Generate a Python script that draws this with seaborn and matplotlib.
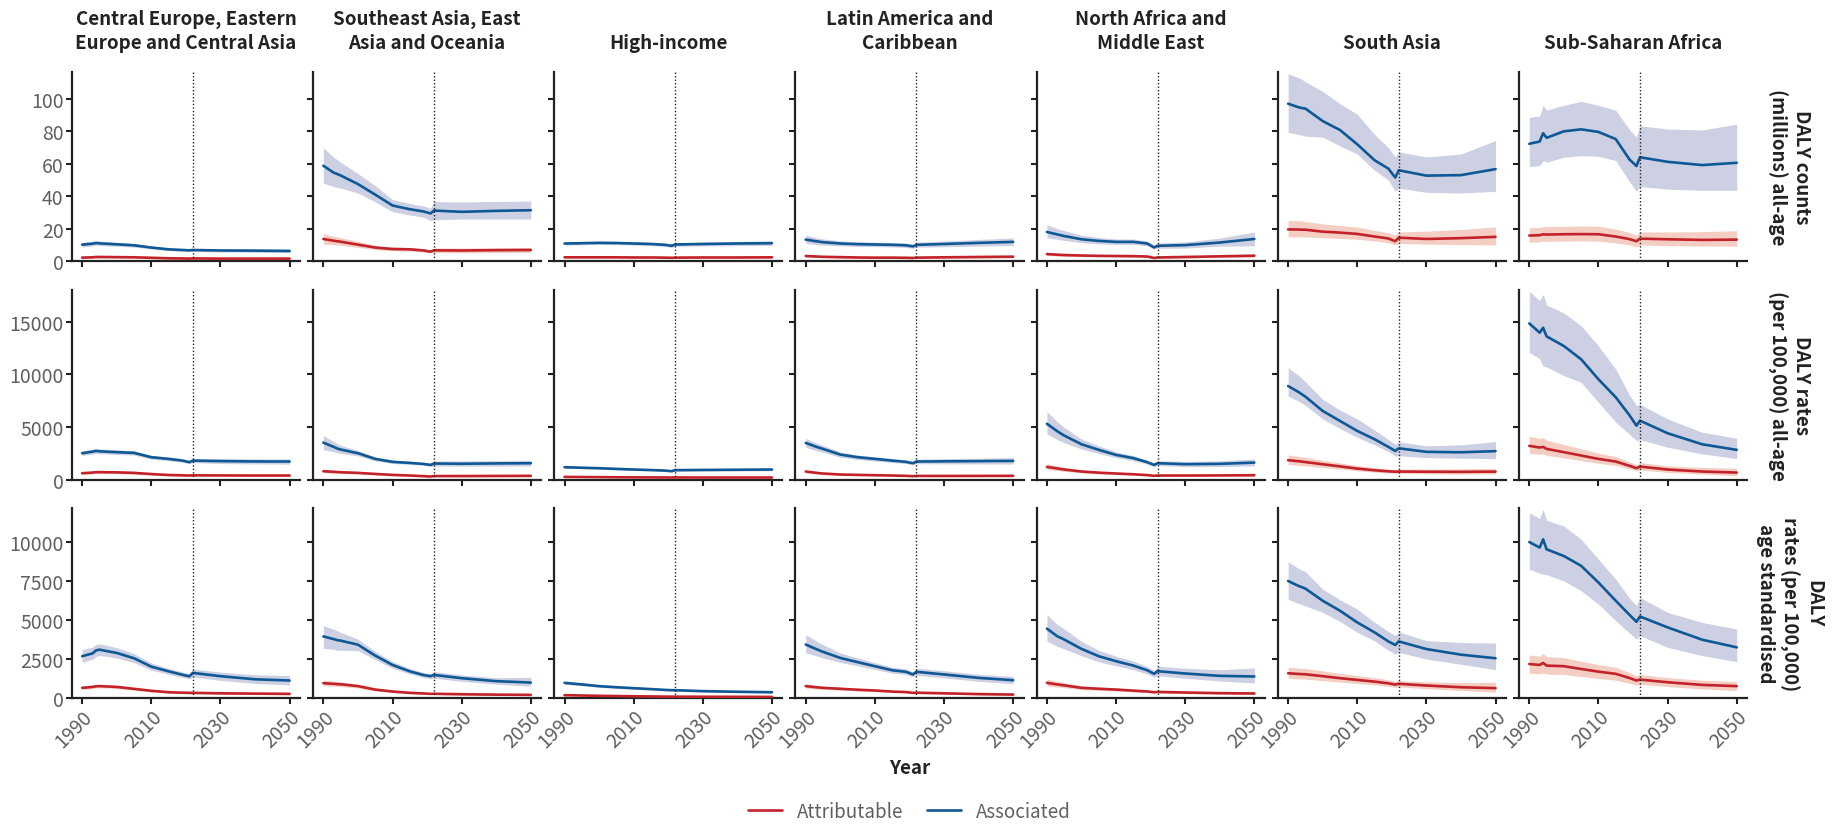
import numpy as np
import pandas as pd
import seaborn as sns
import matplotlib.pyplot as plt
from matplotlib.lines import Line2D

# regions (column order) and panel titles
regions = ["CEE", "SEA", "HI", "LAC", "NAME", "SA", "SSA"]
titles = ["Central Europe, Eastern\nEurope and Central Asia",
          "Southeast Asia, East\nAsia and Oceania",
          "High-income",
          "Latin America and\nCaribbean",
          "North Africa and\nMiddle East",
          "South Asia",
          "Sub-Saharan Africa"]
row_labels = ["DALY counts\n(millions) all-age",
              "DALY rates\n(per 100,000) all-age",
              "DALY\nrates (per 100,000)\nage standardised"]

years = [1990, 1993, 1994, 1995, 2000, 2005, 2010, 2015, 2019, 2021, 2022, 2030, 2040, 2050]

# ---- row 1: DALY counts (millions), all-age ----
cnt_assoc = [[10.2, 10.8, 11.2, 11.0, 10.4, 9.8, 8.4, 7.3, 6.9, 6.7, 6.9, 6.6, 6.5, 6.3],
             [58.8, 54.5, 53.7, 52.8, 47.5, 41.0, 34.3, 32.0, 30.6, 29.4, 31.2, 30.4, 31.0, 31.4],
             [10.9, 11.0, 11.0, 11.1, 11.3, 11.2, 10.9, 10.6, 10.1, 9.5, 10.3, 10.6, 10.9, 11.1],
             [13.3, 12.3, 12.0, 11.7, 10.9, 10.5, 10.3, 10.1, 9.8, 9.1, 10.1, 10.6, 11.3, 11.9],
             [18.0, 16.5, 16.0, 15.5, 13.5, 12.5, 11.9, 11.9, 10.9, 8.5, 9.5, 9.9, 11.5, 13.7],
             [97.0, 94.8, 94.3, 94.0, 86.3, 80.8, 72.0, 62.2, 57.0, 51.5, 56.0, 52.7, 53.0, 56.7],
             [72.3, 73.7, 78.8, 76.0, 80.0, 81.2, 79.6, 75.2, 62.6, 58.6, 64.0, 61.2, 59.2, 60.6]]
cnt_assoc_lo = [[8.8, 9.4, 9.8, 9.6, 9.2, 8.7, 7.5, 6.5, 6.1, 5.9, 6.0, 5.7, 5.5, 5.3],
                [48.0, 46.0, 45.5, 45.0, 42.0, 36.5, 30.5, 28.5, 27.0, 25.0, 25.5, 26.0, 26.0, 26.0],
                [9.9, 10.0, 10.0, 10.1, 10.3, 10.2, 9.9, 9.6, 9.1, 8.5, 9.2, 9.4, 9.6, 9.7],
                [10.9, 10.3, 10.1, 9.9, 9.4, 9.1, 9.0, 8.8, 8.5, 7.9, 8.6, 8.9, 9.3, 9.7],
                [14.5, 13.5, 13.1, 12.8, 11.4, 10.7, 10.3, 10.3, 9.5, 7.4, 8.0, 8.1, 9.2, 9.5],
                [79.4, 78.0, 77.6, 77.0, 76.4, 71.0, 66.0, 56.0, 50.0, 43.0, 45.0, 42.4, 42.0, 43.0],
                [58.2, 59.0, 62.0, 61.0, 64.0, 65.0, 64.6, 62.0, 49.0, 43.0, 46.0, 44.4, 43.6, 43.6]]
cnt_assoc_hi = [[11.6, 12.2, 12.6, 12.4, 11.6, 10.9, 9.4, 8.1, 7.7, 7.5, 7.8, 7.6, 7.6, 7.5],
                [69.8, 64.0, 62.5, 61.0, 54.0, 46.5, 38.0, 35.5, 34.0, 32.6, 36.7, 36.5, 36.8, 37.0],
                [11.9, 12.0, 12.0, 12.1, 12.3, 12.2, 11.9, 11.6, 11.1, 10.5, 11.4, 11.8, 12.2, 12.5],
                [16.0, 14.5, 14.1, 13.7, 12.5, 12.0, 11.7, 11.5, 11.2, 10.4, 11.7, 12.4, 13.4, 14.3],
                [22.6, 20.0, 19.4, 18.8, 16.0, 14.6, 13.7, 13.6, 12.5, 9.8, 11.2, 11.9, 14.2, 18.0],
                [115.5, 113.0, 112.0, 110.5, 104.6, 97.0, 90.5, 78.0, 70.0, 64.0, 67.3, 64.2, 66.0, 74.3],
                [88.5, 89.5, 96.0, 93.0, 96.0, 98.4, 96.0, 93.0, 81.0, 76.4, 83.4, 81.4, 80.8, 84.4]]
cnt_attr = [[2.2, 2.4, 2.6, 2.6, 2.5, 2.4, 2.1, 1.8, 1.7, 1.6, 1.7, 1.6, 1.6, 1.6],
            [13.7, 12.6, 12.3, 12.0, 10.2, 8.4, 7.5, 7.3, 6.6, 5.9, 6.7, 6.6, 6.8, 6.9],
            [2.4, 2.4, 2.4, 2.4, 2.4, 2.4, 2.3, 2.3, 2.2, 2.1, 2.2, 2.3, 2.3, 2.4],
            [3.2, 2.9, 2.8, 2.7, 2.5, 2.3, 2.2, 2.2, 2.1, 2.0, 2.2, 2.4, 2.6, 2.8],
            [4.4, 4.0, 3.9, 3.8, 3.5, 3.3, 3.2, 3.1, 2.9, 2.0, 2.3, 2.6, 3.0, 3.4],
            [19.6, 19.5, 19.4, 19.4, 18.2, 17.6, 16.8, 15.2, 14.0, 12.3, 14.5, 13.7, 14.2, 15.0],
            [15.8, 16.0, 16.6, 16.4, 16.6, 16.7, 16.6, 15.2, 13.6, 12.3, 13.9, 13.5, 13.1, 13.3]]
cnt_attr_lo = [[1.7, 1.9, 2.1, 2.1, 2.0, 1.9, 1.7, 1.4, 1.3, 1.2, 1.3, 1.2, 1.1, 1.1],
               [10.5, 10.2, 10.0, 9.8, 8.5, 7.2, 6.4, 6.2, 5.6, 5.0, 5.3, 5.2, 5.3, 5.4],
               [2.1, 2.1, 2.1, 2.1, 2.1, 2.1, 2.0, 2.0, 1.9, 1.8, 1.9, 1.9, 1.9, 2.0],
               [2.6, 2.4, 2.3, 2.2, 2.0, 1.9, 1.8, 1.8, 1.7, 1.6, 1.7, 1.8, 2.0, 2.1],
               [3.5, 3.2, 3.1, 3.0, 2.8, 2.7, 2.6, 2.5, 2.3, 1.6, 1.8, 2.0, 2.3, 2.6],
               [15.0, 15.0, 15.0, 15.0, 14.5, 14.0, 13.5, 12.5, 11.3, 10.0, 11.0, 10.5, 10.2, 10.0],
               [11.7, 11.9, 12.4, 12.2, 12.4, 12.5, 12.4, 11.3, 10.0, 9.0, 10.0, 9.6, 9.3, 9.3]]
cnt_attr_hi = [[2.7, 2.9, 3.1, 3.1, 3.0, 2.9, 2.5, 2.2, 2.1, 2.0, 2.1, 2.0, 2.1, 2.1],
               [17.0, 15.3, 15.0, 14.5, 12.2, 9.8, 8.7, 8.5, 7.7, 6.9, 8.1, 8.1, 8.3, 8.5],
               [2.7, 2.7, 2.7, 2.7, 2.7, 2.7, 2.6, 2.6, 2.5, 2.4, 2.5, 2.7, 2.7, 2.8],
               [3.8, 3.4, 3.3, 3.2, 3.0, 2.7, 2.6, 2.6, 2.5, 2.4, 2.7, 3.0, 3.2, 3.5],
               [5.3, 4.8, 4.7, 4.6, 4.2, 3.9, 3.8, 3.7, 3.5, 2.4, 2.8, 3.2, 3.8, 4.3],
               [25.0, 25.0, 24.8, 24.5, 23.0, 22.0, 21.0, 19.0, 17.5, 16.0, 18.0, 18.5, 19.5, 21.2],
               [20.6, 20.8, 21.5, 21.3, 21.5, 21.7, 21.5, 19.8, 17.7, 16.0, 18.0, 18.0, 18.2, 18.8]]

# ---- row 2: DALY rates (per 100,000), all-age ----
rate_assoc = [[2500, 2650, 2720, 2680, 2600, 2530, 2120, 1960, 1800, 1650, 1800, 1750, 1720, 1710],
              [3510, 3100, 2950, 2850, 2500, 1960, 1680, 1580, 1480, 1390, 1520, 1500, 1530, 1550],
              [1170, 1140, 1130, 1120, 1075, 1010, 950, 900, 850, 790, 890, 910, 930, 950],
              [3480, 3120, 3010, 2910, 2370, 2120, 1960, 1800, 1680, 1550, 1710, 1730, 1750, 1770],
              [5300, 4590, 4380, 4180, 3350, 2820, 2340, 2030, 1650, 1390, 1550, 1460, 1490, 1610],
              [8890, 8320, 8100, 7880, 6520, 5570, 4620, 3830, 3100, 2720, 2970, 2630, 2590, 2700],
              [14840, 13960, 14430, 13610, 12690, 11430, 9530, 7820, 6100, 5120, 5600, 4400, 3350, 2820]]
rate_assoc_lo = [[2280, 2420, 2490, 2450, 2380, 2320, 1940, 1790, 1640, 1500, 1600, 1520, 1480, 1460],
                 [2820, 2650, 2550, 2480, 2250, 1780, 1520, 1440, 1350, 1250, 1280, 1260, 1270, 1280],
                 [1080, 1050, 1040, 1030, 990, 930, 870, 820, 780, 720, 800, 810, 820, 830],
                 [3050, 2760, 2660, 2580, 2120, 1900, 1760, 1620, 1510, 1390, 1500, 1490, 1480, 1470],
                 [4330, 3800, 3650, 3500, 2900, 2470, 2070, 1800, 1460, 1230, 1320, 1220, 1230, 1300],
                 [7940, 7450, 7250, 7050, 5760, 4850, 4000, 3300, 2650, 2250, 2250, 2090, 2020, 1990],
                 [12060, 11500, 10760, 10700, 9870, 9240, 7340, 5440, 4300, 3700, 3800, 3070, 2440, 1990]]
rate_assoc_hi = [[2720, 2880, 2950, 2910, 2820, 2740, 2300, 2130, 1960, 1800, 2000, 1980, 1960, 1960],
                 [4180, 3600, 3400, 3250, 2750, 2150, 1840, 1730, 1620, 1530, 1770, 1760, 1800, 1830],
                 [1260, 1230, 1220, 1210, 1160, 1090, 1030, 980, 920, 860, 980, 1010, 1040, 1070],
                 [3900, 3480, 3360, 3240, 2620, 2340, 2160, 1980, 1850, 1710, 1930, 1980, 2030, 2080],
                 [6450, 5500, 5220, 4950, 3850, 3200, 2630, 2280, 1850, 1560, 1790, 1720, 1780, 1950],
                 [10630, 9900, 9600, 9300, 7630, 6600, 5760, 4700, 3800, 3350, 3580, 3200, 3300, 3610],
                 [17900, 17000, 17600, 16600, 15840, 14620, 12700, 10500, 8000, 7030, 7150, 5760, 4490, 3920]]
rate_attr = [[600, 660, 700, 700, 680, 630, 520, 430, 400, 380, 400, 390, 380, 380],
             [790, 730, 710, 690, 630, 530, 440, 380, 320, 285, 330, 330, 340, 350],
             [250, 240, 240, 235, 225, 215, 205, 200, 195, 190, 195, 190, 190, 190],
             [760, 640, 600, 570, 475, 440, 410, 380, 350, 320, 340, 340, 345, 350],
             [1200, 1050, 1000, 950, 760, 650, 570, 500, 420, 350, 380, 380, 390, 410],
             [1840, 1740, 1700, 1660, 1450, 1250, 1040, 880, 780, 740, 760, 740, 730, 750],
             [3200, 3040, 3100, 2910, 2600, 2280, 1960, 1710, 1300, 1080, 1230, 950, 760, 660]]
rate_attr_lo = [[480, 530, 570, 570, 550, 510, 420, 350, 320, 300, 310, 300, 290, 280],
                [640, 600, 590, 570, 530, 450, 370, 320, 270, 240, 270, 260, 260, 260],
                [210, 200, 200, 195, 190, 180, 170, 165, 160, 155, 155, 150, 145, 140],
                [620, 530, 500, 480, 400, 370, 345, 320, 295, 270, 280, 275, 270, 270],
                [950, 850, 810, 770, 630, 540, 480, 420, 350, 290, 310, 300, 300, 310],
                [1430, 1360, 1330, 1300, 1140, 990, 830, 700, 620, 590, 580, 540, 520, 520],
                [2500, 2400, 2430, 2300, 2060, 1800, 1540, 1340, 1000, 830, 900, 680, 510, 350]]
rate_attr_hi = [[720, 790, 830, 830, 810, 750, 620, 510, 480, 460, 490, 480, 470, 480],
                [960, 870, 840, 820, 740, 620, 520, 450, 380, 340, 400, 410, 430, 450],
                [290, 280, 280, 275, 265, 250, 240, 235, 230, 225, 235, 235, 240, 245],
                [900, 760, 710, 670, 560, 515, 480, 445, 410, 375, 410, 415, 430, 440],
                [1500, 1300, 1230, 1160, 910, 770, 670, 590, 500, 420, 460, 470, 490, 520],
                [2340, 2200, 2150, 2100, 1830, 1580, 1320, 1120, 990, 940, 990, 990, 1010, 1060],
                [4110, 3900, 3980, 3750, 3330, 2920, 2500, 2180, 1680, 1400, 1620, 1300, 1150, 1080]]

# ---- row 3: DALY rates (per 100,000), age standardised ----
std_assoc = [[2670, 2850, 3040, 3090, 2880, 2540, 2000, 1700, 1480, 1380, 1600, 1390, 1190, 1110],
             [3940, 3770, 3700, 3670, 3410, 2710, 2110, 1700, 1460, 1390, 1470, 1260, 1070, 980],
             [960, 900, 880, 860, 750, 680, 620, 560, 510, 490, 490, 430, 390, 360],
             [3420, 3130, 3040, 2950, 2560, 2290, 2030, 1770, 1670, 1500, 1670, 1500, 1280, 1130],
             [4440, 3950, 3850, 3740, 3140, 2670, 2350, 2070, 1770, 1540, 1710, 1560, 1410, 1370],
             [7500, 7180, 7100, 7010, 6230, 5590, 4840, 4200, 3620, 3390, 3620, 3130, 2770, 2540],
             [10000, 9640, 10170, 9530, 9100, 8470, 7400, 6230, 5320, 4880, 5220, 4520, 3730, 3240]]
std_assoc_lo = [[2280, 2480, 2660, 2720, 2560, 2260, 1780, 1510, 1310, 1220, 1350, 1120, 920, 830],
                [3180, 3100, 3060, 3050, 3030, 2450, 1900, 1530, 1300, 1220, 1260, 1060, 880, 750],
                [860, 810, 790, 770, 670, 610, 555, 500, 455, 435, 430, 370, 330, 300],
                [2880, 2700, 2630, 2560, 2270, 2050, 1820, 1590, 1490, 1340, 1440, 1280, 1060, 900],
                [3630, 3300, 3220, 3140, 2700, 2310, 2050, 1800, 1530, 1330, 1420, 1260, 1080, 960],
                [6330, 6050, 5980, 5900, 5480, 4900, 4200, 3650, 3050, 2810, 2920, 2490, 2150, 1810],
                [8250, 8000, 7930, 7900, 7500, 6870, 6010, 4950, 4150, 3780, 3990, 3240, 2710, 2320]]
std_assoc_hi = [[3090, 3250, 3430, 3470, 3220, 2840, 2240, 1900, 1660, 1560, 1850, 1650, 1480, 1430],
                [4630, 4400, 4300, 4200, 3770, 2980, 2330, 1880, 1620, 1540, 1680, 1470, 1290, 1320],
                [1070, 1000, 980, 960, 840, 760, 690, 620, 570, 550, 560, 500, 460, 430],
                [4060, 3650, 3530, 3410, 2880, 2560, 2260, 1970, 1860, 1670, 1900, 1740, 1510, 1380],
                [5340, 4700, 4560, 4420, 3620, 3050, 2670, 2360, 2020, 1760, 2030, 1900, 1800, 1920],
                [8720, 8300, 8200, 8100, 6970, 6300, 5690, 4850, 4250, 4000, 4240, 3670, 3550, 3520],
                [11880, 11500, 12090, 11400, 11020, 10170, 8890, 7610, 6400, 5910, 6440, 5480, 4840, 4410]]
std_attr = [[640, 700, 740, 750, 700, 575, 450, 360, 330, 320, 320, 290, 270, 255],
            [940, 900, 880, 870, 750, 530, 405, 320, 280, 255, 260, 230, 205, 190],
            [170, 160, 155, 150, 130, 115, 100, 90, 80, 75, 75, 70, 65, 60],
            [750, 680, 660, 640, 580, 520, 470, 400, 370, 320, 330, 290, 240, 210],
            [960, 860, 830, 800, 640, 580, 530, 460, 410, 360, 380, 340, 300, 280],
            [1580, 1530, 1520, 1510, 1390, 1260, 1150, 1040, 930, 850, 900, 790, 680, 620],
            [2170, 2110, 2240, 2070, 2030, 1850, 1680, 1540, 1270, 1110, 1170, 1000, 830, 750]]
std_attr_lo = [[530, 590, 630, 640, 600, 490, 380, 300, 270, 260, 260, 230, 210, 190],
               [760, 740, 730, 720, 630, 440, 340, 265, 230, 210, 210, 180, 160, 140],
               [140, 130, 125, 120, 105, 90, 80, 70, 62, 58, 58, 52, 48, 44],
               [620, 570, 550, 540, 490, 440, 400, 340, 310, 270, 270, 235, 190, 160],
               [760, 690, 670, 650, 530, 480, 440, 380, 340, 300, 310, 270, 230, 210],
               [1260, 1220, 1210, 1200, 1110, 1010, 920, 830, 740, 680, 700, 590, 470, 360],
               [1580, 1550, 1600, 1520, 1500, 1370, 1240, 1130, 930, 820, 860, 720, 570, 470]]
std_attr_hi = [[760, 820, 860, 870, 810, 670, 530, 430, 400, 390, 390, 360, 340, 330],
               [1130, 1070, 1040, 1030, 880, 630, 480, 385, 335, 305, 320, 290, 260, 250],
               [200, 190, 185, 180, 155, 140, 120, 110, 100, 92, 94, 90, 85, 80],
               [900, 800, 780, 750, 680, 610, 550, 470, 440, 380, 400, 360, 310, 280],
               [1200, 1060, 1020, 980, 780, 700, 640, 560, 500, 440, 470, 430, 390, 370],
               [1960, 1900, 1890, 1880, 1730, 1570, 1430, 1300, 1160, 1060, 1110, 1020, 980, 1000],
               [2750, 2680, 2850, 2640, 2580, 2350, 2130, 1960, 1620, 1420, 1500, 1300, 1130, 1040]]

rows = [
    (cnt_attr, cnt_attr_lo, cnt_attr_hi, cnt_assoc, cnt_assoc_lo, cnt_assoc_hi),
    (rate_attr, rate_attr_lo, rate_attr_hi, rate_assoc, rate_assoc_lo, rate_assoc_hi),
    (std_attr, std_attr_lo, std_attr_hi, std_assoc, std_assoc_lo, std_assoc_hi),
]
ylims = [(0, 116.6), (0, 18000), (0, 12150)]
yticks = [[0, 20, 40, 60, 80, 100], [0, 5000, 10000, 15000], [0, 2500, 5000, 7500, 10000]]

# long table for seaborn
recs = []
for r, (at, at_lo, at_hi, asc, asc_lo, asc_hi) in enumerate(rows):
    for c, reg in enumerate(regions):
        for i, yr in enumerate(years):
            recs.append(dict(row=r, region=reg, type="Attributable", year=yr,
                             val=at[c][i], lo=at_lo[c][i], hi=at_hi[c][i]))
            recs.append(dict(row=r, region=reg, type="Associated", year=yr,
                             val=asc[c][i], lo=asc_lo[c][i], hi=asc_hi[c][i]))
df = pd.DataFrame(recs)

line_col = {"Attributable": "#C3222A", "Associated": "#0E5896"}
band_col = {"Attributable": "#F3C9BC", "Associated": "#C7CBDF"}

sns.set_theme(style="ticks")
plt.rcParams["font.family"] = ["Noto Sans CJK SC", "DejaVu Sans"]

fig, axes = plt.subplots(3, 7, figsize=(18.41, 8.28), dpi=100, sharex=True, sharey="row")
fig.subplots_adjust(left=0.039, right=0.949, top=0.912, bottom=0.156, wspace=0.057, hspace=0.153)

for r in range(3):
    for c, reg in enumerate(regions):
        ax = axes[r, c]
        sub = df[(df.row == r) & (df.region == reg)]
        for t in ["Associated", "Attributable"]:
            s = sub[sub.type == t]
            ax.fill_between(s.year, s.lo, s.hi, color=band_col[t], alpha=0.9, lw=0, zorder=1)
        sns.lineplot(data=sub, x="year", y="val", hue="type", palette=line_col,
                     hue_order=["Attributable", "Associated"], linewidth=1.9,
                     legend=False, ax=ax, zorder=3)
        ax.axvline(2022, color="#222222", lw=1.0, ls=(0, (1, 1.5)), zorder=4)
        ax.set_xlim(1987, 2053)
        ax.set_ylim(*ylims[r])
        ax.set_yticks(yticks[r])
        ax.set_xticks([1990, 2010, 2030, 2050])
        ax.set_xlabel("")
        ax.set_ylabel("")
        for sp in ["top", "right"]:
            ax.spines[sp].set_visible(False)
        for sp in ["left", "bottom"]:
            ax.spines[sp].set_linewidth(1.6)
            ax.spines[sp].set_color("#222222")
        ax.tick_params(length=4, width=1.5, color="#222222", labelsize=14,
                       labelcolor="#606060", pad=2)
        for lab in ax.get_yticklabels() + ax.get_xticklabels():
            lab.set_fontweight("light")
        if r == 0:
            ax.set_title(titles[c], fontsize=13.5, fontweight="bold", color="#222222",
                         pad=17, linespacing=1.35)
        if r == 2:
            plt.setp(ax.get_xticklabels(), rotation=45, ha="right", rotation_mode="anchor")
    # row label on the right
    pos = axes[r, 6].get_position()
    fig.text(0.972, (pos.y0 + pos.y1) / 2, row_labels[r], rotation=270, ha="center",
             va="center", multialignment="center", fontsize=13.5, fontweight="bold",
             color="#222222", linespacing=1.3)

fig.text(0.494, 0.072, "Year", ha="center", va="center", fontsize=13.5,
         fontweight="bold", color="#222222")

handles = [Line2D([0], [0], color=line_col["Attributable"], lw=1.9),
           Line2D([0], [0], color=line_col["Associated"], lw=1.9)]
leg = fig.legend(handles, ["Attributable", "Associated"], loc="center", ncol=2,
                 bbox_to_anchor=(0.494, 0.019), frameon=False, fontsize=13.5,
                 handlelength=1.8, columnspacing=1.3)
for t in leg.get_texts():
    t.set_color("#606060")
    t.set_fontweight("light")

fig.savefig("out.png", dpi=100)
